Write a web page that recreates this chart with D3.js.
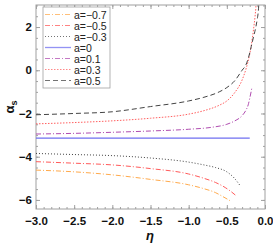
<!DOCTYPE html>
<html lang="en">
<head>
<meta charset="utf-8">
<title>alpha_s vs eta</title>
<script src="https://d3js.org/d3.v7.min.js"></script>
<style>
  body { margin: 0; background: #fff; }
  text { font-family: "Liberation Sans", Arial, sans-serif; }
</style>
</head>
<body>
<script>
// series labels, in legend order
var labels = ["a=\u22120.7", "a=\u22120.5", "a=\u22120.3", "a=0", "a=0.1", "a=0.3", "a=0.5"];

// [eta, alpha_s]
var aM07 = [[-3, -4.62], [-2.5, -4.7], [-2, -4.84], [-1.5, -5.05], [-1, -5.3], [-0.8, -5.48], [-0.65, -5.66], [-0.55, -5.85], [-0.46, -6.03]];
var aM05 = [[-3, -4.23], [-2.5, -4.3], [-2, -4.38], [-1.5, -4.55], [-1, -4.8], [-0.8, -5.0], [-0.65, -5.19], [-0.52, -5.43], [-0.45, -5.6], [-0.38, -5.8]];
var aM03 = [[-3, -3.85], [-2.5, -3.9], [-2, -3.95], [-1.5, -4.06], [-1, -4.25], [-0.8, -4.38], [-0.65, -4.5], [-0.5, -4.7], [-0.4, -5.0], [-0.33, -5.32]];
var a0 = [[-3, -3.14], [-0.2, -3.14]];
var aP01 = [[-3, -2.95], [-2.5, -2.92], [-2, -2.87], [-1.5, -2.81], [-1, -2.73], [-0.7, -2.64], [-0.5, -2.5], [-0.4, -2.35], [-0.3, -2.1], [-0.25, -1.85], [-0.22, -1.6], [-0.2, -1.3], [-0.174, -0.85]];
var aP03 = [[-3, -2.48], [-2.5, -2.42], [-2, -2.34], [-1.5, -2.22], [-1, -2.03], [-0.8, -1.87], [-0.6, -1.62], [-0.5, -1.42], [-0.4, -1.05], [-0.3, -0.45], [-0.25, 0.05], [-0.2, 0.75], [-0.18, 1.15], [-0.15, 1.9], [-0.13, 2.5], [-0.12, 2.9], [-0.115, 3.2]];
var aP05 = [[-3, -2.06], [-2.5, -2.0], [-2, -1.92], [-1.5, -1.68], [-1, -1.42], [-0.8, -1.25], [-0.6, -1.0], [-0.5, -0.8], [-0.4, -0.5], [-0.3, 0.0], [-0.25, 0.25], [-0.2, 0.8], [-0.18, 1.1], [-0.15, 1.55], [-0.12, 2.0], [-0.1, 2.4], [-0.09, 2.65], [-0.078, 3.2]];

var xTicks = [-3, -2.5, -2, -1.5, -1, -0.5, 0];
var yTicks = [-6, -4, -2, 0, 2];

var series = [aM07, aM05, aM03, a0, aP01, aP03, aP05];
var colors = ["#ffaa4c", "#ff5a5a", "#444444", "#6f6ff0", "#b04cb0", "#ff6060", "#444444"];
var dashes = ["5,2,1,2", "5,2,1,2", "1,2", null, "5,2,1,2", "1.5,1.5", "5,3"];

var W = 273, H = 246;
var pL = 36, pR = 265, pT = 5, pB = 209;

var svg = d3.select("body").append("svg")
  .attr("width", W).attr("height", H);

var x = d3.scaleLinear().domain([-3, 0]).range([pL, pR]);
var y = d3.scaleLinear().domain([-6.42, 3.02]).range([pB, pT]);

svg.append("defs").append("clipPath").attr("id", "clip")
  .append("rect").attr("x", pL).attr("y", pT)
  .attr("width", pR - pL).attr("height", pB - pT);

// frame
svg.append("rect")
  .attr("x", pL).attr("y", pT)
  .attr("width", pR - pL).attr("height", pB - pT)
  .attr("fill", "none").attr("stroke", "#a0a0a0").attr("stroke-width", 1);

var fmtX = function(d) { return d3.format(".1f")(d).replace("-", "\u2212"); };
var fmtY = function(d) { return String(d).replace("-", "\u2212"); };

var xMinor = d3.range(-3, 0.001, 0.1);
var yMinor = d3.range(-6, 3.001, 0.5);

function tickAxis(axis, tr) {
  var g = svg.append("g").attr("transform", tr).call(axis);
  g.select(".domain").remove();
  g.selectAll("line").attr("stroke", "#a0a0a0");
  return g;
}

// bottom
tickAxis(d3.axisBottom(x).tickValues(xMinor).tickSize(-2).tickFormat(""), "translate(0," + pB + ")");
var gx = tickAxis(d3.axisBottom(x).tickValues(xTicks).tickSize(-4).tickPadding(8).tickFormat(fmtX), "translate(0," + pB + ")");
gx.selectAll("text").attr("font-size", 11.5).attr("font-weight", "bold").attr("fill", "#111");
// top
tickAxis(d3.axisTop(x).tickValues(xMinor).tickSize(-2).tickFormat(""), "translate(0," + pT + ")");
tickAxis(d3.axisTop(x).tickValues(xTicks).tickSize(-4).tickFormat(""), "translate(0," + pT + ")");
// left
tickAxis(d3.axisLeft(y).tickValues(yMinor).tickSize(-2).tickFormat(""), "translate(" + pL + ",0)");
var gy = tickAxis(d3.axisLeft(y).tickValues(yTicks).tickSize(-4).tickPadding(4).tickFormat(fmtY), "translate(" + pL + ",0)");
gy.selectAll("text").attr("font-size", 11.5).attr("font-weight", "bold").attr("fill", "#111");
// right
tickAxis(d3.axisRight(y).tickValues(yMinor).tickSize(-2).tickFormat(""), "translate(" + pR + ",0)");
tickAxis(d3.axisRight(y).tickValues(yTicks).tickSize(-4).tickFormat(""), "translate(" + pR + ",0)");

// curves
var line = d3.line()
  .x(function(d) { return x(d[0]); })
  .y(function(d) { return y(d[1]); })
  .curve(d3.curveMonotoneX);

var plot = svg.append("g").attr("clip-path", "url(#clip)");
series.forEach(function(s, i) {
  plot.append("path")
    .attr("d", line(s))
    .attr("fill", "none")
    .attr("stroke", colors[i])
    .attr("stroke-width", i == 3 ? 1.3 : 1)
    .attr("stroke-dasharray", dashes[i]);
});

// legend
var lg = svg.append("g");
lg.append("rect")
  .attr("x", 43).attr("y", 7).attr("width", 67).attr("height", 81)
  .attr("fill", "#fff").attr("stroke", "#a0a0a0").attr("stroke-width", 0.8);
labels.forEach(function(l, i) {
  var yy = 14.5 + i * 11;
  lg.append("line")
    .attr("x1", 45).attr("x2", 71).attr("y1", yy).attr("y2", yy)
    .attr("stroke", colors[i]).attr("stroke-width", i == 3 ? 1.3 : 1)
    .attr("stroke-opacity", 0.75)
    .attr("stroke-dasharray", dashes[i]);
  lg.append("text")
    .attr("x", 74).attr("y", yy + 4)
    .attr("font-size", 10.5).attr("fill", "#222")
    .text(l);
});

// axis titles
svg.append("text")
  .attr("transform", "translate(14,107) rotate(-90)")
  .attr("text-anchor", "middle")
  .attr("font-size", 13).attr("font-weight", "bold").attr("fill", "#111")
  .html('\u03b1<tspan font-size="9" dy="3">s</tspan>');

svg.append("text")
  .attr("x", 150).attr("y", 240)
  .attr("text-anchor", "middle")
  .attr("font-size", 13).attr("font-weight", "bold").attr("font-style", "italic").attr("fill", "#111")
  .text("\u03b7");
</script>
</body>
</html>
